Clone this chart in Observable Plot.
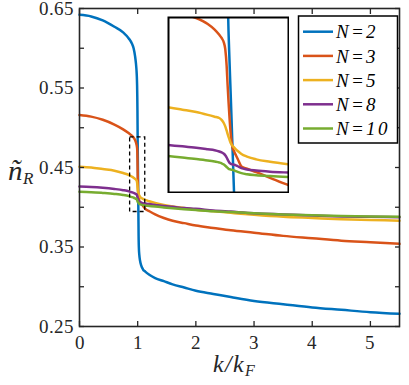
<!DOCTYPE html>
<html><head><meta charset="utf-8">
<script src="https://cdn.jsdelivr.net/npm/d3@7"></script>
<script src="https://cdn.jsdelivr.net/npm/@observablehq/plot@0.6"></script>
<style>
@font-face{font-family:"RefSerif";font-style:normal;font-weight:400;src:local("Liberation Serif"),local("LiberationSerif"),local("LiberationSerif-Regular"),local("DejaVu Serif"),local("DejaVuSerif"),local("Times New Roman");}
@font-face{font-family:"RefSerif";font-style:italic;font-weight:400;src:local("Liberation Serif Italic"),local("LiberationSerif-Italic"),local("DejaVu Serif Italic"),local("DejaVuSerif-Italic"),local("Times New Roman Italic");}
html,body{margin:0;padding:0;background:#fff;}
#wrap{position:relative;width:409px;height:385px;overflow:hidden;}
#wrap svg, #wrap svg text{font-family:"RefSerif","Liberation Serif","DejaVu Serif",serif !important;}
#inset{position:absolute;left:167.3px;top:16.3px;width:122px;height:177px;}
</style></head><body><div id="wrap"><div id="main"></div><div id="inset"></div></div>
<script>
const seriesNames = ["N=2", "N=3", "N=5", "N=8", "N=10"];
const k = [0, 0.2, 0.4, 0.6, 0.75, 0.85, 0.9, 0.93, 0.955, 0.97, 0.98, 0.985, 0.99, 0.993, 0.996, 0.998, 1.0, 1.002, 1.005, 1.008, 1.012, 1.016, 1.02, 1.028, 1.04, 1.06, 1.09, 1.13, 1.2, 1.3, 1.45, 1.6, 1.8, 2.0, 2.3, 2.6, 3.0, 3.5, 4.0, 4.5, 5.0, 5.5];
const nN2 = [0.642, 0.640, 0.635, 0.627, 0.620, 0.612, 0.606, 0.600, 0.590, 0.581, 0.572, 0.565, 0.553, 0.540, 0.522, 0.503, 0.481, 0.466, 0.445, 0.423, 0.394, 0.363, 0.350, 0.340, 0.333, 0.327, 0.322, 0.319, 0.315, 0.311, 0.307, 0.303, 0.299, 0.295, 0.291, 0.287, 0.282, 0.278, 0.274, 0.271, 0.268, 0.266];
const nN3 = [0.516, 0.514, 0.510, 0.504, 0.498, 0.493, 0.490, 0.4877, 0.4845, 0.4815, 0.4787, 0.4770, 0.4745, 0.4710, 0.4620, 0.4520, 0.4430, 0.4350, 0.4250, 0.4190, 0.4162, 0.4140, 0.4120, 0.4080, 0.4068, 0.4049, 0.4019, 0.3980, 0.3950, 0.3910, 0.3865, 0.3830, 0.3800, 0.3770, 0.3740, 0.3710, 0.3680, 0.3640, 0.3610, 0.3580, 0.3560, 0.3540];
const nN5 = [0.451, 0.450, 0.448, 0.446, 0.443, 0.4405, 0.4385, 0.4372, 0.4357, 0.4347, 0.4340, 0.4330, 0.4312, 0.4295, 0.4272, 0.4255, 0.4240, 0.4225, 0.4205, 0.4193, 0.4182, 0.4172, 0.4163, 0.4147, 0.4133, 0.4118, 0.4105, 0.4092, 0.4075, 0.4055, 0.4030, 0.4010, 0.3990, 0.3970, 0.3950, 0.3930, 0.3905, 0.3880, 0.3865, 0.3850, 0.3840, 0.3830];
const nN8 = [0.426, 0.4255, 0.4245, 0.4230, 0.4215, 0.4200, 0.4188, 0.4180, 0.4172, 0.4167, 0.4160, 0.4155, 0.4148, 0.4140, 0.4128, 0.4118, 0.4108, 0.4100, 0.4094, 0.4091, 0.4089, 0.4086, 0.4081, 0.4071, 0.4064, 0.4058, 0.4052, 0.4047, 0.4040, 0.4030, 0.4015, 0.4005, 0.3990, 0.3980, 0.3960, 0.3945, 0.3925, 0.3910, 0.3895, 0.3885, 0.3880, 0.3875];
const nN10 = [0.4195, 0.419, 0.418, 0.4168, 0.4155, 0.4140, 0.4128, 0.4120, 0.4112, 0.4106, 0.4101, 0.4097, 0.4090, 0.4084, 0.4077, 0.4072, 0.4068, 0.4065, 0.4063, 0.4062, 0.4059, 0.4055, 0.4051, 0.4044, 0.4038, 0.4033, 0.4028, 0.4023, 0.4017, 0.4008, 0.3997, 0.3987, 0.3975, 0.3965, 0.3950, 0.3940, 0.3925, 0.3910, 0.3898, 0.3890, 0.3884, 0.3880];
const xTicks = [0, 1, 2, 3, 4, 5];
const yTicks = [0.25, 0.30, 0.35, 0.40, 0.45, 0.50, 0.55, 0.60, 0.65];
const yLabels = [0.25, 0.35, 0.45, 0.55, 0.65];
const insetK = [0.87, 1.13];
const insetN = [0.394, 0.488];

const colors = ["#0072BD", "#D95319", "#EDB120", "#7E2F8E", "#77AC30"];
const values = [nN2, nN3, nN5, nN8, nN10];
const rows = seriesNames.flatMap((s, i) => k.map((kv, j) => ({series: s, k: kv, v: values[i][j]})));
const axisColor = "#262626";
const serif = "RefSerif, 'Liberation Serif', 'DejaVu Serif', serif";

const main = Plot.plot({
  width: 409, height: 385,
  marginLeft: 79, marginRight: 10, marginTop: 8, marginBottom: 59,
  x: {domain: [0, 5.5], label: null},
  y: {domain: [0.25, 0.65], label: null},
  color: {domain: seriesNames, range: colors},
  style: {fontFamily: serif, fontSize: "19px", color: axisColor, background: "white", overflow: "visible"},
  marks: [
    Plot.line(rows, {x: "k", y: "v", z: "series", stroke: "series", strokeWidth: 2.5, curve: "monotone-x"}),
    Plot.rect([{x1: insetK[0], x2: insetK[1], y1: insetN[0], y2: insetN[1]}], {x1: "x1", x2: "x2", y1: "y1", y2: "y2", fill: "none", stroke: "black", strokeWidth: 1.3, strokeDasharray: "4,3"}),
    Plot.axisX({ticks: xTicks, tickSize: -5, tickPadding: 13.5, tickFormat: d3.format("d"), strokeWidth: 1.3, label: null, fontFamily: serif}),
    Plot.axisX({anchor: "top", ticks: xTicks, tickSize: -5, fill: "none", strokeWidth: 1.3, label: null}),
    Plot.axisY({ticks: yTicks, tickSize: -5, fill: "none", strokeWidth: 1.3, label: null}),
    Plot.axisY({ticks: yLabels, tickSize: 0, tickPadding: 6, tickFormat: d3.format(".2f"), label: null, fontFamily: serif}),
    Plot.axisY({anchor: "right", ticks: yTicks, tickSize: -5, fill: "none", strokeWidth: 1.3, label: null}),
    Plot.frame({stroke: axisColor, strokeWidth: 1.6})
  ]
});
document.getElementById("main").appendChild(main);

const svg = d3.select(main);
// y label: tilde n with subscript R
const yl = svg.append("text").attr("x", 8).attr("y", 180).attr("text-anchor", "start")
  .attr("font-family", serif).attr("fill", axisColor).attr("font-style", "italic");
yl.append("tspan").attr("font-size", 29).text("ñ");
yl.append("tspan").attr("font-size", 17).attr("dy", 4).text("R");
// x label: k/k_F
const xl = svg.append("text").attr("x", 234).attr("y", 372).attr("text-anchor", "middle")
  .attr("font-family", serif).attr("fill", axisColor).attr("font-style", "italic");
xl.append("tspan").attr("font-size", 24).attr("letter-spacing", 1).text("k/k");
xl.append("tspan").attr("font-size", 16).attr("dy", 4).text("F");

// legend
const lg = svg.append("g");
lg.append("rect").attr("x", 298.5).attr("y", 16).attr("width", 99).attr("height", 127)
  .attr("fill", "white").attr("stroke", "#000").attr("stroke-width", 1.5);
seriesNames.forEach((s, i) => {
  const y = 31.7 + i * 24.2;
  lg.append("line").attr("x1", 303).attr("x2", 333).attr("y1", y).attr("y2", y)
    .attr("stroke", colors[i]).attr("stroke-width", 2.5);
  lg.append("text").attr("x", 336).attr("y", y).attr("dy", "0.35em").attr("font-size", 19)
    .attr("font-family", serif).attr("text-anchor", "start").attr("font-style", "italic")
    .attr("letter-spacing", 2).attr("fill", "#000").text(s);
});

// inset
const inset = Plot.plot({
  width: 122, height: 177,
  marginTop: 1, marginRight: 1, marginBottom: 1, marginLeft: 1,
  x: {domain: insetK, axis: null},
  y: {domain: insetN, axis: null},
  color: {domain: seriesNames, range: colors},
  style: {background: "white", display: "block"},
  marks: [
    Plot.line(rows, {x: "k", y: "v", z: "series", stroke: "series", strokeWidth: 2.5, curve: "monotone-x", clip: true}),
    Plot.frame({stroke: "black", strokeWidth: 2})
  ]
});
document.getElementById("inset").appendChild(inset);
</script>
</body></html>
